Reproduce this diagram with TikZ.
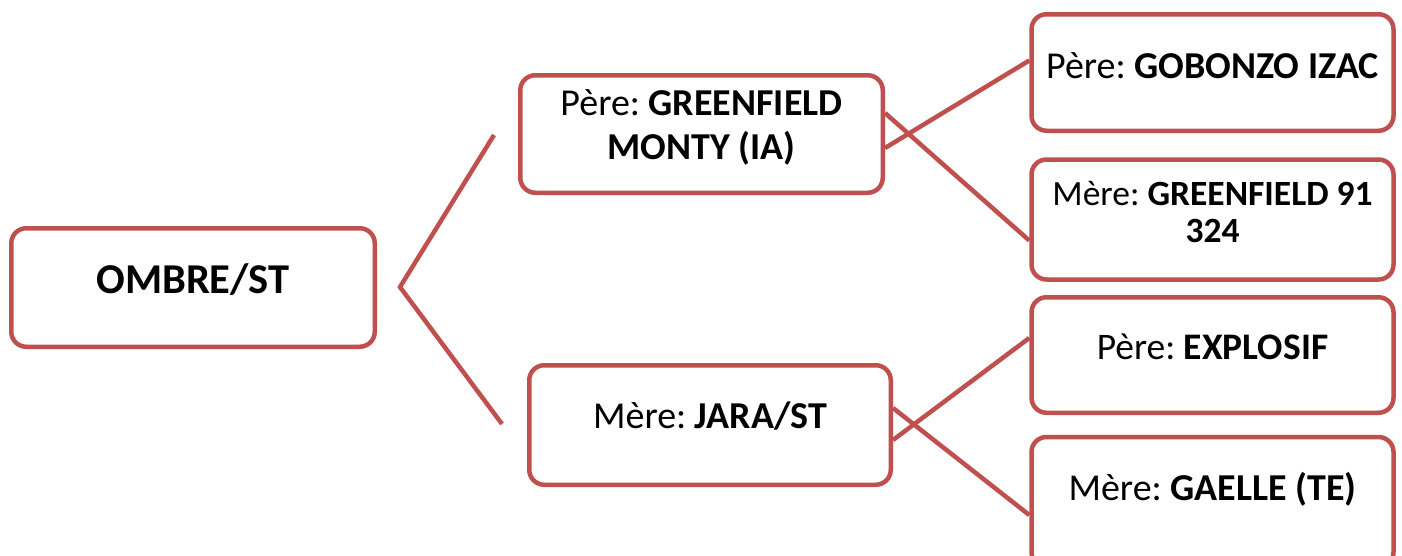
\documentclass[tikz,border=0pt]{standalone}
\usepackage{fontspec}
\setmainfont{Carlito}
\frenchspacing
\definecolor{acc}{HTML}{C0504D}
\begin{document}
\begin{tikzpicture}[x=1pt,y=-1pt,
  box/.style={draw=acc, line width=4.5pt, rounded corners=15pt, fill=white, inner sep=0pt},
  link/.style={draw=acc, line width=4.5pt},
  lbl/.style 2 args={anchor=base, align=center, inner sep=0pt, font=\fontsize{#1}{#2}\selectfont}]
\useasboundingbox (0,0) rectangle (1402,555);
% boxes
\node[box, minimum width=363.5pt, minimum height=118.5pt] (ombre) at (193,287.5) {};
\node[box, minimum width=362.5pt, minimum height=117.5pt] (monty) at (701.5,134) {};
\node[box, minimum width=361.5pt, minimum height=119.5pt] (jara) at (710,425) {};
\node[box, minimum width=362pt, minimum height=116.5pt] (gob) at (1212.5,72.5) {};
\node[box, minimum width=362pt, minimum height=120pt] (m91) at (1212.5,219.5) {};
\node[box, minimum width=362pt, minimum height=115.5pt] (expl) at (1212.5,355) {};
\node[box, minimum width=362pt, minimum height=130pt] (gael) at (1212.5,502) {};
% texts
\node[lbl={42.5}{48}] (tombre) at (193,293) {\textbf{OMBRE/ST}};
\node[lbl={38}{44}] (tmonty) at (701.5,159) {Père: \textbf{GREENFIELD}\\\textbf{MONTY (IA)}};
\node[lbl={38}{44}] (tjara) at (710,428) {Mère: \textbf{JARA/ST}};
\node[lbl={38}{44}] (tgob) at (1212.5,78) {Père: \textbf{GOBONZO IZAC}};
\node[lbl={35.5}{37}] (tm91) at (1212.5,242) {Mère: \textbf{GREENFIELD 91}\\\textbf{324}};
\node[lbl={37.5}{44}] (texpl) at (1212.5,359) {Père: \textbf{EXPLOSIF}};
\node[lbl={38}{44}] (tgael) at (1212.5,500) {Mère: \textbf{GAELLE (TE)}};
% left bracket lines
\coordinate (v) at (400,287);
\coordinate (la) at (494,135);
\coordinate (lb) at (502,424);
\draw[link] (la) -- (v) -- (lb);
% crossing connectors
\draw[link] ([yshift=-14pt]monty.east) -- ([yshift=12pt]gob.west);
\draw[link] ([yshift=21pt]monty.east) -- ([yshift=-21pt]m91.west);
\draw[link] ([yshift=-15pt]jara.east) -- ([yshift=17pt]expl.west);
\draw[link] ([yshift=17pt]jara.east) -- ([yshift=-13pt]gael.west);
\end{tikzpicture}
\end{document}
